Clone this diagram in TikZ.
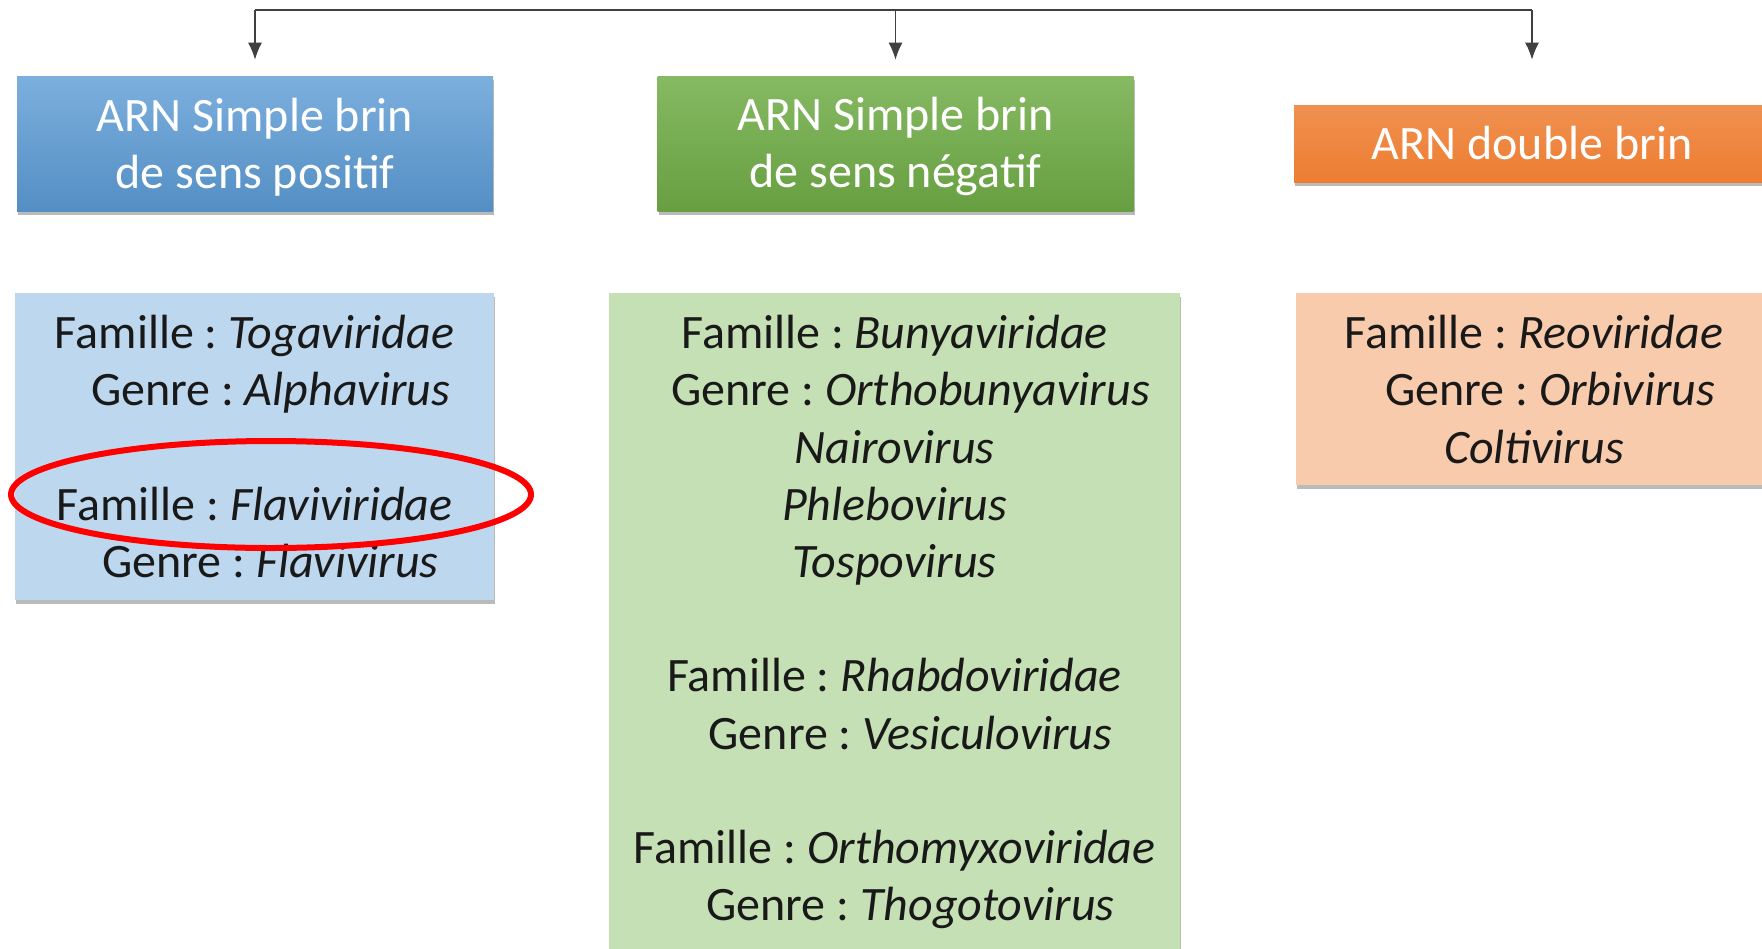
\documentclass[tikz,border=0pt]{standalone}
\usepackage{fontspec}
\setmainfont{Carlito}
\usetikzlibrary{arrows.meta,shadows,shapes.geometric}

\definecolor{hdblue}{HTML}{5B9BD5}
\definecolor{hdgreen}{HTML}{70AD47}
\definecolor{hdorange}{HTML}{ED7D31}
\definecolor{bxblue}{HTML}{BDD7EE}
\definecolor{bxgreen}{HTML}{C5E0B4}
\definecolor{bxorange}{HTML}{F8CBAD}

\newcommand{\famille}[1]{Famille : \textit{#1}}
\newcommand{\genre}[1]{\hspace*{16pt}Genre : \textit{#1}}

\tikzset{
  shade box/.style={drop shadow={shadow xshift=0.5pt, shadow yshift=-2pt, opacity=.45, fill=black!60}},
}

\begin{document}
\frenchspacing
\begin{tikzpicture}[x=0.5pt,y=-0.5pt,font=\fontsize{24}{28.6}\selectfont,
  header/.style={minimum width=238pt, align=center, text=white, inner sep=0pt, shade box},
  content/.style={anchor=north, minimum width=238pt, align=center, inner xsep=0pt, inner ysep=11pt, text=black!90, shade box},
  link/.style={draw=black!75, line width=0.6pt},
  tip/.style={-{Latex[length=8.5pt,width=7pt]}}]

\useasboundingbox (0,0) rectangle (1762,948);

% headers
\node[header, top color=hdblue!80!white, bottom color=hdblue!92!black, minimum height=67.5pt] (pos) at (255,143.5) {\rule{0pt}{20pt}ARN Simple brin\\de sens positif};
\node[header, top color=hdgreen!85!white, bottom color=hdgreen!92!black, minimum height=67.5pt] (neg) at (895.5,143.5) {\rule{0pt}{20pt}ARN Simple brin\\de sens négatif};
\node[header, top color=hdorange!85!white, bottom color=hdorange, minimum height=38.5pt] (ds) at (1532,143.5) {ARN double brin};

% families
\node[content, fill=bxblue, minimum width=239.5pt] (posfam) at (254.5,293) {\famille{Togaviridae}\\\genre{Alphavirus}\\[28.6pt]\famille{Flaviviridae}\\\genre{Flavivirus}};
\node[content, fill=bxgreen, minimum width=285.5pt] (negfam) at (894.5,293) {\famille{Bunyaviridae}\\\genre{Orthobunyavirus}\\\textit{Nairovirus}\\\textit{Phlebovirus}\\\textit{Tospovirus}\\[28.6pt]\famille{Rhabdoviridae}\\\genre{Vesiculovirus}\\[28.6pt]\famille{Orthomyxoviridae}\\\genre{Thogotovirus}};
\node[content, fill=bxorange] (dsfam) at (1534,293) {\famille{Reoviridae}\\\genre{Orbivirus}\\\textit{Coltivirus}};

% highlight
\node[draw=red, line width=3pt, ellipse, minimum width=260pt, minimum height=53.5pt, inner sep=0pt] (hl) at (271,494.5) {};

% connectors
\coordinate (bus) at (0,10);
\draw[link] (pos.north |- bus) -- (ds.north |- bus);
\draw[link,tip,shorten >=8pt] (pos.north |- bus) -- (pos.north);
\draw[link,tip,shorten >=8pt] (neg.north |- bus) -- (neg.north);
\draw[link,tip,shorten >=22.5pt] (ds.north |- bus) -- (ds.north);

\end{tikzpicture}
\end{document}
